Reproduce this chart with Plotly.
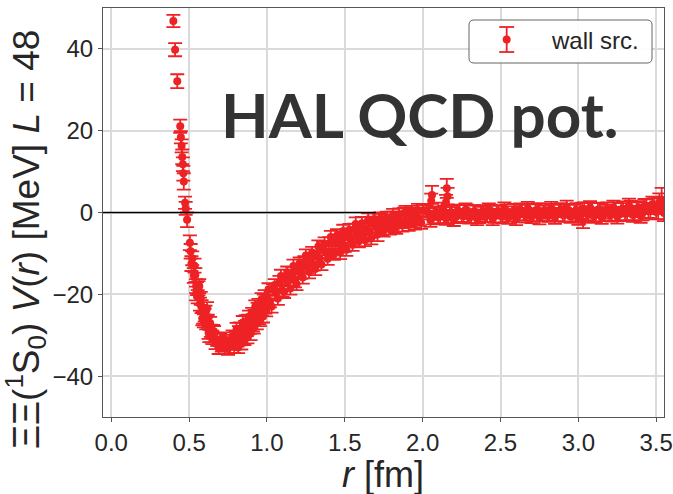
import plotly.graph_objects as go

# ---------------- data ----------------
R_CORE = [0.399, 0.41, 0.424, 0.443, 0.447, 0.452, 0.456, 0.46, 0.463, 0.466, 0.474, 0.478, 0.487]
V_CORE = [46.8, 39.8, 32.1, 21.1, 18.4, 16.3, 13.6, 11.8, 9.6, 7.6, 2.4, 1.0, -1.8]
E_CORE = [1.5, 1.6, 1.7, 1.6, 1.5, 1.6, 1.8, 1.7, 1.8, 2.0, 1.5, 1.6, 1.8]

R_A = [0.505, 0.51, 0.52, 0.53, 0.54, 0.55, 0.56, 0.57, 0.58, 0.59,
       0.60, 0.61, 0.62, 0.63, 0.64, 0.65, 0.66, 0.67, 0.68, 0.69,
       0.70, 0.71, 0.72, 0.73, 0.74, 0.75, 0.76, 0.77, 0.78, 0.79,
       0.80, 0.81, 0.82, 0.83, 0.84, 0.85, 0.86, 0.87, 0.88, 0.89,
       0.90, 0.91, 0.92, 0.93, 0.94, 0.95, 0.96, 0.97, 0.98, 0.99, 1.00]
V_A = [-7.4, -9.5, -11.2, -15.4, -15.3, -18.6, -18.5, -22.4, -23.0, -25.7,
       -25.1, -27.1, -26.6, -30.2, -28.9, -30.6, -29.3, -32.0, -31.1, -33.1,
       -31.0, -32.5, -30.7, -33.0, -32.1, -33.3, -31.3, -32.0, -30.2, -32.8,
       -30.5, -31.3, -29.2, -31.0, -29.4, -30.7, -27.9, -28.7, -26.4, -28.2,
       -26.8, -27.6, -25.2, -25.6, -23.5, -25.8, -23.3, -23.8, -21.5, -23.2, -21.4]
E_A = [1.8, 1.8, 1.7, 1.8, 1.7, 1.6, 1.7, 1.6, 1.6, 1.5,
       1.6, 1.5, 1.6, 1.5, 1.5, 1.6, 1.5, 1.4, 1.5, 1.5,
       1.4, 1.5, 1.4, 1.5, 1.4, 1.5, 1.4, 1.5, 1.4, 1.5,
       1.4, 1.5, 1.4, 1.5, 1.4, 1.5, 1.4, 1.5, 1.4, 1.5,
       1.4, 1.5, 1.4, 1.5, 1.4, 1.5, 1.4, 1.5, 1.4, 1.5, 1.4]

R_X = [0.515, 0.535, 0.545, 0.545, 0.555, 0.565, 0.575, 0.585, 0.595, 0.605,
       0.615, 0.625, 0.635, 0.645, 0.655]
V_X = [-12.5, -13.0, -18.0, -19.8, -20.6, -18.0, -21.0, -26.0, -26.5, -24.3,
       -23.5, -29.4, -27.0, -30.3, -29.0]
E_X = [1.8, 1.7, 1.7, 1.7, 1.6, 1.7, 1.6, 1.6, 1.6, 1.5,
       1.6, 1.5, 1.5, 1.5, 1.5]

R_A2 = [0.805, 0.815, 0.825, 0.835, 0.845, 0.855, 0.865, 0.875, 0.885, 0.895,
        0.905, 0.915, 0.925, 0.935, 0.945, 0.955, 0.965, 0.975, 0.985, 0.995]
V_A2 = [-28.5, -33.0, -28.4, -32.0, -26.9, -31.0, -26.6, -30.5, -25.4, -29.6,
        -24.8, -28.2, -23.0, -27.0, -22.6, -26.4, -21.2, -25.4, -20.6, -24.0]
E_A2 = [1.5, 1.4, 1.5, 1.5, 1.6, 1.4, 1.5, 1.5, 1.4, 1.6,
        1.5, 1.4, 1.5, 1.6, 1.5, 1.4, 1.5, 1.5, 1.6, 1.4]

R_B = [1.02, 1.04, 1.06, 1.08, 1.10, 1.12, 1.14, 1.16, 1.18, 1.20,
       1.22, 1.24, 1.26, 1.28, 1.30, 1.32, 1.34, 1.36, 1.38, 1.40,
       1.42, 1.44, 1.46, 1.48, 1.50, 1.52, 1.54, 1.56, 1.58, 1.60,
       1.62, 1.64, 1.66, 1.68, 1.70, 1.72, 1.74, 1.76, 1.78, 1.80,
       1.82, 1.84, 1.86, 1.88, 1.90, 1.92, 1.94, 1.96, 1.98, 2.00]
V_B = [-21.7, -18.9, -19.5, -17.1, -19.1, -16.5, -16.5, -14.8, -16.7, -14.2,
       -14.7, -12.1, -13.3, -11.4, -12.7, -10.8, -11.3, -8.8, -9.7, -7.5,
       -9.7, -7.4, -7.6, -6.1, -8.2, -5.9, -6.6, -4.2, -5.7, -4.1,
       -5.6, -4.0, -4.8, -2.5, -3.6, -1.7, -4.1, -2.0, -2.5, -1.2,
       -3.5, -1.4, -2.3, -0.2, -1.8, -0.4, -2.1, -0.7, -1.7, 0.4]
E_B = [1.5, 1.4, 1.5, 1.6, 1.5, 1.4, 1.5, 1.5, 1.6, 1.4,
       1.5, 1.4, 1.6, 1.5, 1.5, 1.4, 1.5, 1.6, 1.4, 1.5,
       1.5, 1.4, 1.6, 1.5, 1.4, 1.5, 1.6, 1.5, 1.4, 1.5,
       1.5, 1.6, 1.4, 1.5, 1.5, 1.4, 1.6, 1.5, 1.5, 1.4,
       1.5, 1.6, 1.5, 1.4, 1.5, 1.5, 1.6, 1.4, 1.5, 1.5]

R_B2 = [1.01, 1.03, 1.05, 1.07, 1.09, 1.11, 1.13, 1.15, 1.17, 1.19,
        1.21, 1.23, 1.25, 1.27, 1.29, 1.31, 1.33, 1.35, 1.37, 1.39,
        1.41, 1.43, 1.45, 1.47, 1.49, 1.51, 1.53, 1.55, 1.57, 1.59,
        1.61, 1.63, 1.65, 1.67, 1.69, 1.71, 1.73, 1.75, 1.77, 1.79,
        1.81, 1.83, 1.85, 1.87, 1.89, 1.91, 1.93, 1.95, 1.97, 1.99]
V_B2 = [-18.8, -23.0, -17.7, -21.0, -15.5, -19.4, -14.6, -18.6, -13.1, -17.5,
        -12.4, -15.9, -10.5, -14.5, -9.8, -13.8, -8.3, -12.7, -7.7, -11.3,
        -6.0, -10.2, -5.6, -9.8, -4.5, -9.1, -4.2, -7.9, -2.8, -7.0,
        -2.6, -6.8, -1.7, -6.3, -1.6, -5.4, -1.5, -4.4, -1.2, -3.9,
        -0.6, -3.6, -0.4, -3.2, 0.1, -3.0, 0.2, -2.6, 0.6, -2.5]
E_B2 = [1.5, 1.5, 1.4, 1.6, 1.5, 1.5, 1.4, 1.5, 1.6, 1.5,
        1.4, 1.5, 1.5, 1.6, 1.4, 1.5, 1.5, 1.4, 1.6, 1.5,
        1.5, 1.4, 1.5, 1.6, 1.5, 1.5, 1.4, 1.5, 1.6, 1.5,
        1.5, 1.4, 1.5, 1.5, 1.4, 1.6, 1.5, 1.5, 1.4, 1.5,
        1.5, 1.6, 1.4, 1.5, 1.5, 1.5, 1.4, 1.6, 1.5, 1.5]

R_C = [2.025, 2.05, 2.075, 2.10, 2.125, 2.15, 2.175, 2.20, 2.225, 2.25,
       2.275, 2.30, 2.325, 2.35, 2.375, 2.40, 2.425, 2.45, 2.475, 2.50,
       2.525, 2.55, 2.575, 2.60, 2.625, 2.65, 2.675, 2.70, 2.725, 2.75,
       2.775, 2.80, 2.825, 2.85, 2.875, 2.90, 2.925, 2.95, 2.975, 3.00,
       3.025, 3.05, 3.075, 3.10, 3.125, 3.15, 3.175, 3.20, 3.225, 3.25,
       3.275, 3.30, 3.325, 3.35, 3.375, 3.40, 3.425, 3.45, 3.475, 3.50,
       3.525, 3.55]
V_C = [0.3, -1.9, -0.2, -1.2, 0.8, -1.5, -0.3, -1.8, 0.4, -0.7,
       0.7, -1.2, 0.2, -1.6, -0.2, -0.8, 0.7, -1.5, 0.1, -0.8,
       1.0, -1.2, 0.0, -1.6, 0.6, -0.4, 1.0, -1.0, 0.5, -1.3,
       0.1, -0.5, 1.0, -1.2, 0.4, -0.6, 1.3, -1.0, 0.2, -1.4,
       0.8, -0.2, 1.2, -0.9, 0.7, -1.2, 0.2, -0.4, 1.2, -1.0,
       0.7, -0.3, 1.7, -0.6, 0.7, -0.8, 1.5, 0.5, 2.0, 0.1,
       1.7, -0.1]
E_C = [1.5, 1.6, 1.5, 1.5, 1.6, 1.5, 1.6, 1.5, 1.5, 1.6,
       1.5, 1.5, 1.6, 1.5, 1.6, 1.5, 1.5, 1.6, 1.5, 1.6,
       1.5, 1.6, 1.5, 1.5, 1.6, 1.5, 1.6, 1.6, 1.5, 1.6,
       1.6, 1.5, 1.6, 1.6, 1.5, 1.6, 1.6, 1.5, 1.7, 1.6,
       1.6, 1.7, 1.6, 1.6, 1.7, 1.6, 1.7, 1.6, 1.7, 1.7,
       1.6, 1.7, 1.7, 1.7, 1.8, 1.7, 1.8, 1.8, 1.9, 1.8,
       1.9, 2.0]

R_C2 = [2.0375, 2.0625, 2.0875, 2.1125, 2.1375, 2.1625, 2.1875, 2.2125, 2.2375, 2.2625,
        2.2875, 2.3125, 2.3375, 2.3625, 2.3875, 2.4125, 2.4375, 2.4625, 2.4875, 2.5125,
        2.5375, 2.5625, 2.5875, 2.6125, 2.6375, 2.6625, 2.6875, 2.7125, 2.7375, 2.7625,
        2.7875, 2.8125, 2.8375, 2.8625, 2.8875, 2.9125, 2.9375, 2.9625, 2.9875, 3.0125,
        3.0375, 3.0625, 3.0875, 3.1125, 3.1375, 3.1625, 3.1875, 3.2125, 3.2375, 3.2625,
        3.2875, 3.3125, 3.3375, 3.3625, 3.3875, 3.4125, 3.4375, 3.4625, 3.4875, 3.5125,
        3.5375]
V_C2 = [-0.2, -1.3, 0.0, -1.0, 0.2, -1.1, 0.0, -1.1, 0.2, -0.9,
        0.4, -1.0, 0.2, -1.0, 0.3, -0.8, 0.4, -0.9, 0.3, -1.0,
        0.4, -0.7, 0.5, -0.8, 0.4, -0.8, 0.5, -0.6, 0.7, -0.6,
        0.5, -0.7, 0.6, -0.5, 0.7, -0.6, 0.5, -0.7, 0.6, -0.5,
        0.8, -0.6, 0.6, -0.6, 0.7, -0.4, 0.8, -0.5, 0.7, -0.4,
        0.9, -0.2, 1.1, -0.2, 1.0, 0.0, 1.4, 0.4, 1.6, 0.4,
        1.6]
E_C2 = [1.5, 1.6, 1.5, 1.6, 1.5, 1.5, 1.6, 1.5, 1.6, 1.5,
        1.5, 1.6, 1.5, 1.6, 1.5, 1.6, 1.5, 1.6, 1.5, 1.6,
        1.6, 1.5, 1.6, 1.6, 1.5, 1.6, 1.6, 1.5, 1.6, 1.6,
        1.6, 1.6, 1.5, 1.6, 1.6, 1.7, 1.6, 1.6, 1.7, 1.6,
        1.7, 1.6, 1.7, 1.7, 1.6, 1.7, 1.7, 1.7, 1.8, 1.7,
        1.8, 1.7, 1.8, 1.8, 1.8, 1.9, 1.8, 1.9, 1.9, 2.0,
        2.0]

R_OUT = [2.055, 2.06, 2.15, 2.155, 2.16, 3.52, 3.535, 1.81, 3.03]
V_OUT = [2.8, 4.3, 2.5, 5.9, 4.0, 2.5, 3.2, -3.0, -2.2]
E_OUT = [1.8, 2.2, 1.8, 2.3, 2.0, 2.2, 2.8, 1.6, 1.6]

SERIES_NAME = "wall src."
X_TICKS = [0.0, 0.5, 1.0, 1.5, 2.0, 2.5, 3.0, 3.5]
Y_TICKS = [-40, -20, 0, 20, 40]
ZERO_LINE_END = 1.7

# ---------------- styling / layout ----------------
W, H = 673, 494
LM, RM, TM, BM = 103, 9, 8, 77
PW, PH = W - LM - RM, H - TM - BM
RED = "#ee2225"
FONT = "Liberation Sans, Arial, sans-serif"
TXT = "#262626"


def px_x(px):
    return (px - LM) / PW


def px_y(py):
    return (H - BM - py) / PH


r_all = R_CORE + R_A + R_X + R_A2 + R_B + R_B2 + R_C + R_C2 + R_OUT
v_all = V_CORE + V_A + V_X + V_A2 + V_B + V_B2 + V_C + V_C2 + V_OUT
e_all = E_CORE + E_A + E_X + E_A2 + E_B + E_B2 + E_C + E_C2 + E_OUT

fig = go.Figure()
fig.add_trace(go.Scatter(
    x=r_all, y=v_all, mode="markers", name=SERIES_NAME,
    marker=dict(color=RED, size=8, line=dict(width=0)),
    error_y=dict(type="data", array=e_all, color=RED, thickness=1.8, width=7),
    showlegend=False,
))

shapes = []
shapes.append(dict(type="line", xref="x", yref="y", x0=-0.06, x1=ZERO_LINE_END, y0=0, y1=0,
                   line=dict(color="black", width=1.5), layer="above"))

# custom legend box (rounded) with an error-bar glyph
bx0, bx1 = px_x(469), px_x(652)
by0, by1 = px_y(63), px_y(20)
rx, ry = 5 / PW, 5 / PH
path = (f"M{bx0+rx},{by0} L{bx1-rx},{by0} Q{bx1},{by0} {bx1},{by0+ry} "
        f"L{bx1},{by1-ry} Q{bx1},{by1} {bx1-rx},{by1} L{bx0+rx},{by1} "
        f"Q{bx0},{by1} {bx0},{by1-ry} L{bx0},{by0+ry} Q{bx0},{by0} {bx0+rx},{by0} Z")
shapes.append(dict(type="path", xref="paper", yref="paper", path=path,
                   fillcolor="rgba(255,255,255,0.92)", line=dict(color="#666666", width=1), layer="above"))
gx = 506.7
shapes.append(dict(type="line", xref="paper", yref="paper", x0=px_x(gx), x1=px_x(gx),
                   y0=px_y(27), y1=px_y(52), line=dict(color=RED, width=1.8), layer="above"))
for cy in (27, 52):
    shapes.append(dict(type="line", xref="paper", yref="paper", x0=px_x(gx - 7.5), x1=px_x(gx + 7.5),
                       y0=px_y(cy), y1=px_y(cy), line=dict(color=RED, width=1.8), layer="above"))
shapes.append(dict(type="circle", xref="paper", yref="paper", x0=px_x(gx - 4), x1=px_x(gx + 4),
                   y0=px_y(39.5 + 4), y1=px_y(39.5 - 4), fillcolor=RED, line=dict(color=RED, width=0),
                   layer="above"))

annotations = [
    dict(text=SERIES_NAME, xref="paper", yref="paper", x=px_x(549), y=px_y(40),
         xanchor="left", yanchor="middle", showarrow=False,
         font=dict(family=FONT, size=24, color=TXT)),
    dict(text="<b>HAL QCD pot.</b>", xref="paper", yref="paper", x=px_x(420), y=px_y(114),
         xanchor="center", yanchor="middle", showarrow=False,
         font=dict(family="Lato, sans-serif", size=62, color="#333333")),
    dict(text="ΞΞ(<sup>1</sup>S<sub>0</sub>) <i>V</i>(<i>r</i>) [MeV] <i>L</i> = 48",
         xref="paper", yref="paper", x=px_x(26), y=px_y(240), textangle=-90,
         xanchor="center", yanchor="middle", showarrow=False,
         font=dict(family=FONT, size=37, color=TXT)),
    dict(text="<i>r</i> [fm]", xref="paper", yref="paper", x=px_x(383), y=px_y(474),
         xanchor="center", yanchor="middle", showarrow=False,
         font=dict(family=FONT, size=36, color=TXT)),
]

axis_common = dict(
    showgrid=True, gridcolor="#dadada", gridwidth=1.5, zeroline=False,
    showline=True, mirror=True, linecolor="#555555", linewidth=1,
    ticks="outside", ticklen=4, tickwidth=1, tickcolor="#555555",
    tickfont=dict(family=FONT, size=24, color=TXT), automargin=False,
)

fig.update_layout(
    width=W, height=H,
    margin=dict(l=LM, r=RM, t=TM, b=BM, pad=0, autoexpand=False),
    paper_bgcolor="white", plot_bgcolor="white",
    shapes=shapes, annotations=annotations,
    showlegend=False,
    xaxis=dict(range=[-0.053, 3.55], tickvals=X_TICKS, tickformat=".1f", **axis_common),
    yaxis=dict(range=[-50, 50], tickvals=Y_TICKS, **axis_common),
)

fig.write_html("out.html")
